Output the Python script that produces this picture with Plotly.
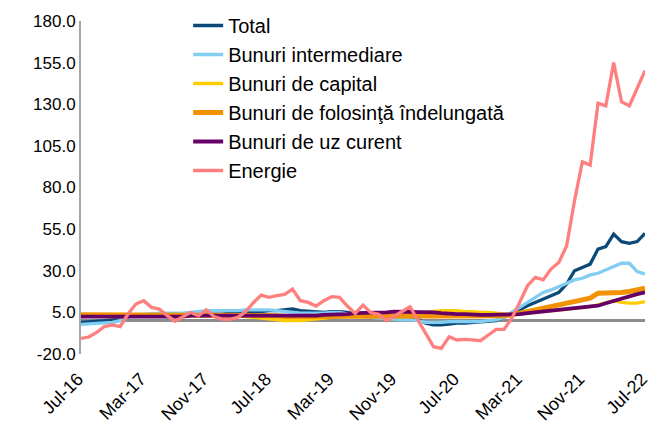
import plotly.graph_objects as go

months = []
mn = ["Jan", "Feb", "Mar", "Apr", "May", "Jun", "Jul", "Aug", "Sep", "Oct", "Nov", "Dec"]
for k in range(73):
    m = (6 + k) % 12
    y = 16 + (6 + k) // 12
    months.append(f"{mn[m]}-{y:02d}")

tick_labels = ["Jul-16", "Mar-17", "Nov-17", "Jul-18", "Mar-19", "Nov-19",
               "Jul-20", "Mar-21", "Nov-21", "Jul-22"]
y_ticks = [-20, 5, 30, 55, 80, 105, 130, 155, 180]

total = [-1, -0.8, -0.5, 0, 0.5, 1,
         2.5, 3, 3, 3, 2.8, 2.5,
         2.5, 3, 3.5, 3.5, 4, 4,
         4, 4.5, 4.5, 5, 5.5, 5.5,
         6, 6, 6.5, 7, 6, 5.5,
         5, 5, 5.5, 5.5, 5, 4,
         3.5, 3, 2.5, 2, 2, 2.5,
         2.5, 1, -1.5, -2.5, -2.5, -2,
         -1.5, -1.5, -1, -0.5, -0.5, 0,
         2, 4, 6.5, 9, 11, 13.5,
         15, 17, 22, 30, 32, 34,
         43, 44.5, 52, 47.5, 46.5, 47.5, 52.5]

intermediare = [-2.2, -2, -1.8, -1.5, -1, 0,
                2.5, 3.5, 4, 4.5, 4.5, 4.5,
                4.5, 4.5, 5, 5.5, 6, 6,
                6, 6, 6, 6.5, 6.5, 6.5,
                6.5, 6, 5.5, 5, 4.5, 4.5,
                4.5, 4.5, 5, 5, 4, 3,
                2.5, 2, 1.5, 1, 1, 0.5,
                0.5, 0, -1, -1, -1, -0.5,
                -0.5, -0.5, -0.5, -0.5, 0, 0.5,
                2, 5, 8, 11.5, 14, 17,
                18.5, 20.5, 23, 24.5, 25.5, 27.5,
                28.5, 30.5, 32.5, 34.5, 34.5, 29.5, 28]

capital = [3, 3, 3, 2.5, 2.5, 2.5,
           3, 3, 3.5, 3.5, 3.5, 3.5,
           3.5, 3.5, 3.5, 3.5, 3.5, 3.5,
           3, 3, 3, 2.5, 2, 1.5,
           1, 0.5, 0, 0, 0, 0.5,
           1, 1.5, 2, 2.5, 3, 3,
           3, 3, 3, 3.5, 3.5, 4,
           4, 4.5, 5, 5.5, 6, 6,
           6, 5.5, 5.5, 5, 5, 4.5,
           4, 3.5, 4, 4.5, 5, 5.5,
           6, 6.5, 7, 7.5, 8, 8.5,
           9.5, 11, 12, 11, 10.5, 10.5, 11.5]

folosinta = [3.5, 3.5, 3.5, 3.5, 3, 3,
             3, 3, 3, 3, 3, 3,
             3, 3, 3, 3.5, 3.5, 3.5,
             3.5, 3, 3, 3, 3, 3,
             3, 3, 2.5, 2.5, 2.5, 2.5,
             2.5, 2.5, 2.5, 2.5, 2.5, 2.5,
             2.5, 2.5, 2.5, 2.5, 2.5, 3,
             3, 3, 3, 2.5, 2.5, 2.5,
             2.5, 2.5, 2.5, 2.5, 2.5, 3,
             3, 3.5, 4.5, 5.5, 6.5, 7.5,
             8.5, 10, 11, 12, 12.5, 13.5,
             16.5, 16.5, 17, 17, 17.5, 18.5, 19.5]

uz_curent = [2.5, 2.5, 2.5, 2.3, 2.2, 2,
             2, 2, 2.5, 2.5, 2.5, 2.5,
             2.5, 2.5, 3, 3, 3, 3,
             3, 3, 3, 3, 3, 3,
             3, 3, 2.5, 2.5, 3, 3,
             3, 3.5, 3.5, 4, 4, 4.5,
             4.5, 4.5, 5, 5, 5.5, 5.5,
             5.5, 5.5, 5.5, 5, 4.5, 4,
             4, 4, 3.5, 3.5, 3.5, 3.5,
             3.5, 3.5, 4, 4.5, 5, 5.5,
             6, 6.5, 7, 7.5, 8, 8.5,
             9, 10.5, 12, 13.5, 15, 16, 17]

energie = [-10.6, -9.8, -7, -3.5, -2.5, -3.5,
           4, 10, 12, 8, 7, 3,
           -0.3, 2.5, 5, 3, 6.5, 2.4,
           1, 0.8, 2, 5.4, 10.8, 15.4,
           14, 15, 15.8, 19, 12, 11,
           8.8, 12, 14.4, 14, 8.8, 4.4,
           9.4, 4.8, 3.8, 0, 2.8, 5.5,
           8.4, 0.4, -7.6, -15.6, -16.6, -9.6,
           -11.6, -11.2, -11.5, -12, -8.6, -5.2,
           -5.2, 1.5, 11, 21, 26, 24.5,
           31, 35, 45, 72, 95.5, 93.5,
           130.6, 129, 155, 131.5, 129, 139.6, 150.2]

series = [
    ("Total", total, "#0B4A78", 3.3),
    ("Bunuri intermediare", intermediare, "#82CDF2", 3.3),
    ("Bunuri de capital", capital, "#FFCC00", 3.3),
    ("Bunuri de folosinţă îndelungată", folosinta, "#F39200", 5),
    ("Bunuri de uz curent", uz_curent, "#660066", 3.8),
    ("Energie", energie, "#FF7F7F", 3.3),
]

fig = go.Figure()
for i, (name, vals, color, w) in enumerate(series):
    fig.add_trace(go.Scatter(x=months, y=vals, name=name, mode="lines",
                             legendgroup=f"g{i}",
                             line=dict(color=color, width=w)))

font = "Liberation Sans, Arial, sans-serif"
fig.update_layout(
    width=650, height=424,
    margin=dict(l=81, r=5, t=21, b=70),
    paper_bgcolor="white", plot_bgcolor="white",
    font=dict(family=font, size=17, color="#000000"),
    legend=dict(x=0.19, y=1.045, xanchor="left", yanchor="top",
                bgcolor="rgba(0,0,0,0)", tracegroupgap=0,
                font=dict(size=20)),
    xaxis=dict(type="category", range=[0, 72], tickmode="array",
               tickvals=tick_labels, ticktext=tick_labels, tickangle=-45,
               tickfont=dict(size=18), ticklabelstandoff=10, ticklabelshift=-3,
               automargin=False,
               showgrid=False, showline=False, zeroline=False, ticks=""),
    yaxis=dict(range=[-20, 180], tickmode="array",
               tickvals=y_ticks, ticktext=[f"{v:.1f}" for v in y_ticks],
               tickfont=dict(size=17), automargin=False,
               showgrid=False, showline=True,
               linecolor="#A6A6A6", linewidth=2, zeroline=True,
               zerolinecolor="#8C8C8C", zerolinewidth=2.5, ticks=""),
)

fig.write_html("out.html", config={"displayModeBar": False},
               post_script="document.body.style.margin='0';")
